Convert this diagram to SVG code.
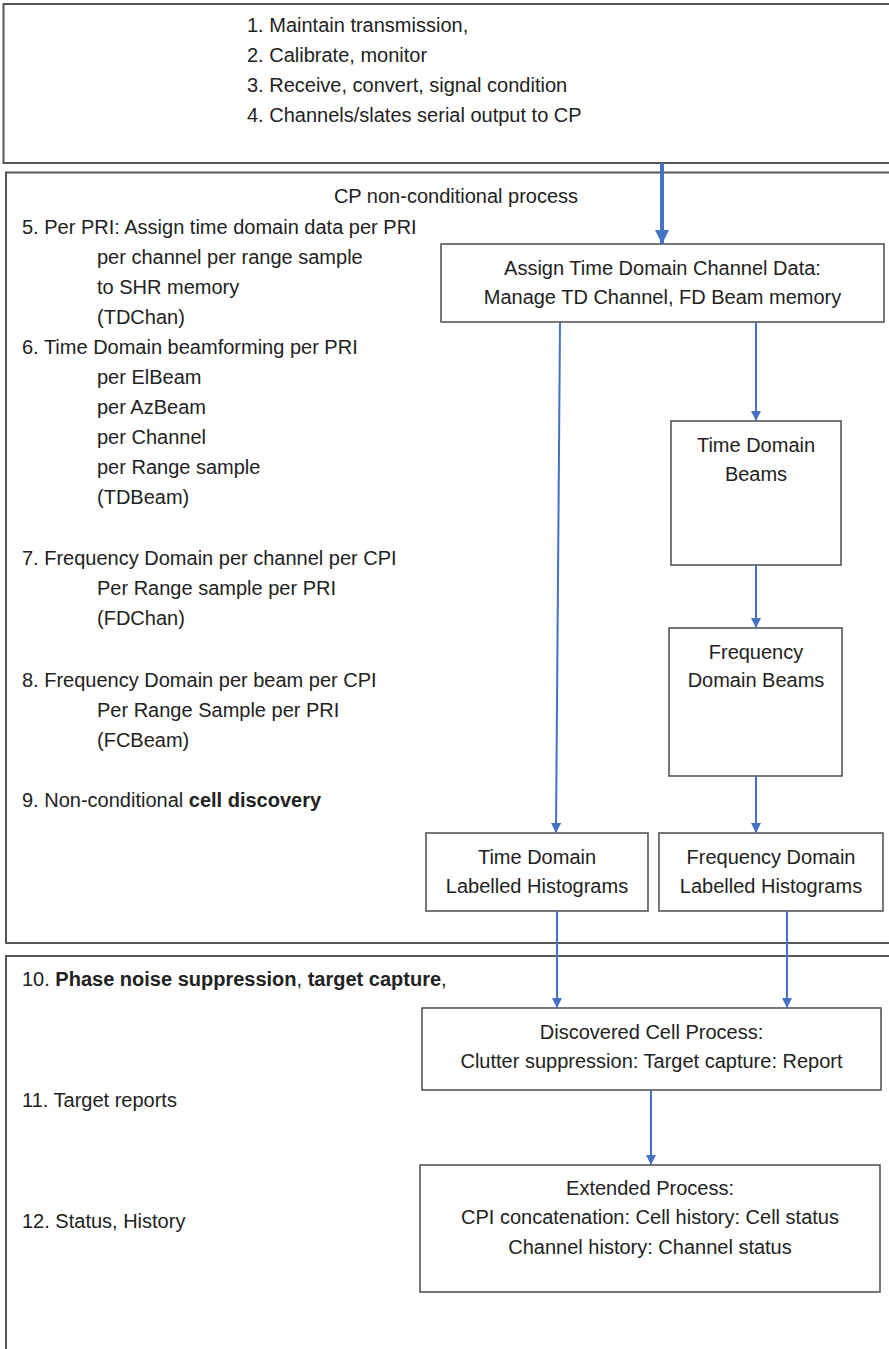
<svg xmlns="http://www.w3.org/2000/svg" width="889" height="1349" viewBox="0 0 889 1349">
<style>
  text { font-family: "Liberation Sans", Arial, sans-serif; font-size: 20px; fill: #222; }
  .c { text-anchor: middle; }
  .b { font-weight: bold; }
  .outer { fill: none; stroke: #5a5555; stroke-width: 2; }
  .box { fill: #fff; stroke: #5a5555; stroke-width: 1.6; }
  .conn { stroke: #4472c4; stroke-width: 2; fill: none; marker-end: url(#ah); }
</style>
<defs>
  <marker id="ah" markerUnits="userSpaceOnUse" markerWidth="12" markerHeight="12" refX="10" refY="5" orient="auto">
    <path d="M0,0 L10,5 L0,10 Z" fill="#4472c4"/>
  </marker>
  <marker id="ahBig" markerUnits="userSpaceOnUse" markerWidth="16" markerHeight="16" refX="14" refY="7" orient="auto">
    <path d="M0,0 L14,7 L0,14 Z" fill="#4472c4"/>
  </marker>
</defs>
<rect width="889" height="1349" fill="#fff"/>

<g id="panel-top">
  <rect class="outer" x="3.5" y="4" width="895" height="159"/>
  <text x="247" y="32">1. Maintain transmission,</text>
  <text x="247" y="62">2. Calibrate, monitor</text>
  <text x="247" y="92">3. Receive, convert, signal condition</text>
  <text x="247" y="122">4. Channels/slates serial output to CP</text>
</g>

<g id="panel-cp">
  <rect class="outer" x="6" y="172.5" width="895" height="770.5"/>
  <text class="c" x="456" y="203">CP non-conditional process</text>
  <text x="22" y="234">5. Per PRI: Assign time domain data per PRI</text>
  <text x="97" y="264">per channel per range sample</text>
  <text x="97" y="294">to SHR memory</text>
  <text x="97" y="324">(TDChan)</text>
  <text x="22" y="354">6. Time Domain beamforming per PRI</text>
  <text x="97" y="384">per ElBeam</text>
  <text x="97" y="414">per AzBeam</text>
  <text x="97" y="444">per Channel</text>
  <text x="97" y="474">per Range sample</text>
  <text x="97" y="504">(TDBeam)</text>
  <text x="22" y="565">7. Frequency Domain per channel per CPI</text>
  <text x="97" y="595">Per Range sample per PRI</text>
  <text x="97" y="625">(FDChan)</text>
  <text x="22" y="687">8. Frequency Domain per beam per CPI</text>
  <text x="97" y="717">Per Range Sample per PRI</text>
  <text x="97" y="747">(FCBeam)</text>
  <text x="22" y="807">9. Non-conditional <tspan class="b">cell discovery</tspan></text>
</g>

<g id="panel-bottom">
  <rect class="outer" x="6" y="956" width="895" height="400"/>
  <text x="22" y="986">10. <tspan class="b">Phase noise suppression</tspan>, <tspan class="b">target capture</tspan>,</text>
  <text x="22" y="1107">11. Target reports</text>
  <text x="22" y="1228">12. Status, History</text>
</g>

<g id="node-assign">
  <rect class="box" x="441" y="244" width="443" height="78"/>
  <text class="c" x="662.5" y="275">Assign Time Domain Channel Data:</text>
  <text class="c" x="662.5" y="304">Manage TD Channel, FD Beam memory</text>
</g>

<g id="node-tdbeams">
  <rect class="box" x="671" y="421" width="170" height="144"/>
  <text class="c" x="756" y="452">Time Domain</text>
  <text class="c" x="756" y="481">Beams</text>
</g>

<g id="node-fdbeams">
  <rect class="box" x="669" y="628" width="173" height="148"/>
  <text class="c" x="756" y="659">Frequency</text>
  <text class="c" x="756" y="687">Domain Beams</text>
</g>

<g id="node-tdhist">
  <rect class="box" x="426" y="833" width="222" height="78"/>
  <text class="c" x="537" y="864">Time Domain</text>
  <text class="c" x="537" y="893">Labelled Histograms</text>
</g>

<g id="node-fdhist">
  <rect class="box" x="659" y="833" width="224" height="78"/>
  <text class="c" x="771" y="864">Frequency Domain</text>
  <text class="c" x="771" y="893">Labelled Histograms</text>
</g>

<g id="node-discovered">
  <rect class="box" x="422" y="1008" width="459" height="82"/>
  <text class="c" x="651.5" y="1039">Discovered Cell Process:</text>
  <text class="c" x="651.5" y="1068">Clutter suppression: Target capture: Report</text>
</g>

<g id="node-extended">
  <rect class="box" x="420" y="1165" width="460" height="127"/>
  <text class="c" x="650" y="1195">Extended Process:</text>
  <text class="c" x="650" y="1224">CPI concatenation: Cell history: Cell status</text>
  <text class="c" x="650" y="1254">Channel history: Channel status</text>
</g>

<g id="connectors">
  <line x1="662" y1="163" x2="662" y2="244" stroke="#4472c4" stroke-width="4" marker-end="url(#ahBig)"/>
  <line class="conn" x1="560" y1="322" x2="556" y2="833"/>
  <line class="conn" x1="756" y1="322" x2="756" y2="421"/>
  <line class="conn" x1="756" y1="565" x2="756" y2="628"/>
  <line class="conn" x1="756" y1="776" x2="756" y2="833"/>
  <line class="conn" x1="557" y1="911" x2="557" y2="1008"/>
  <line class="conn" x1="787" y1="911" x2="787" y2="1008"/>
  <line class="conn" x1="651" y1="1090" x2="651" y2="1165"/>
</g>
</svg>
